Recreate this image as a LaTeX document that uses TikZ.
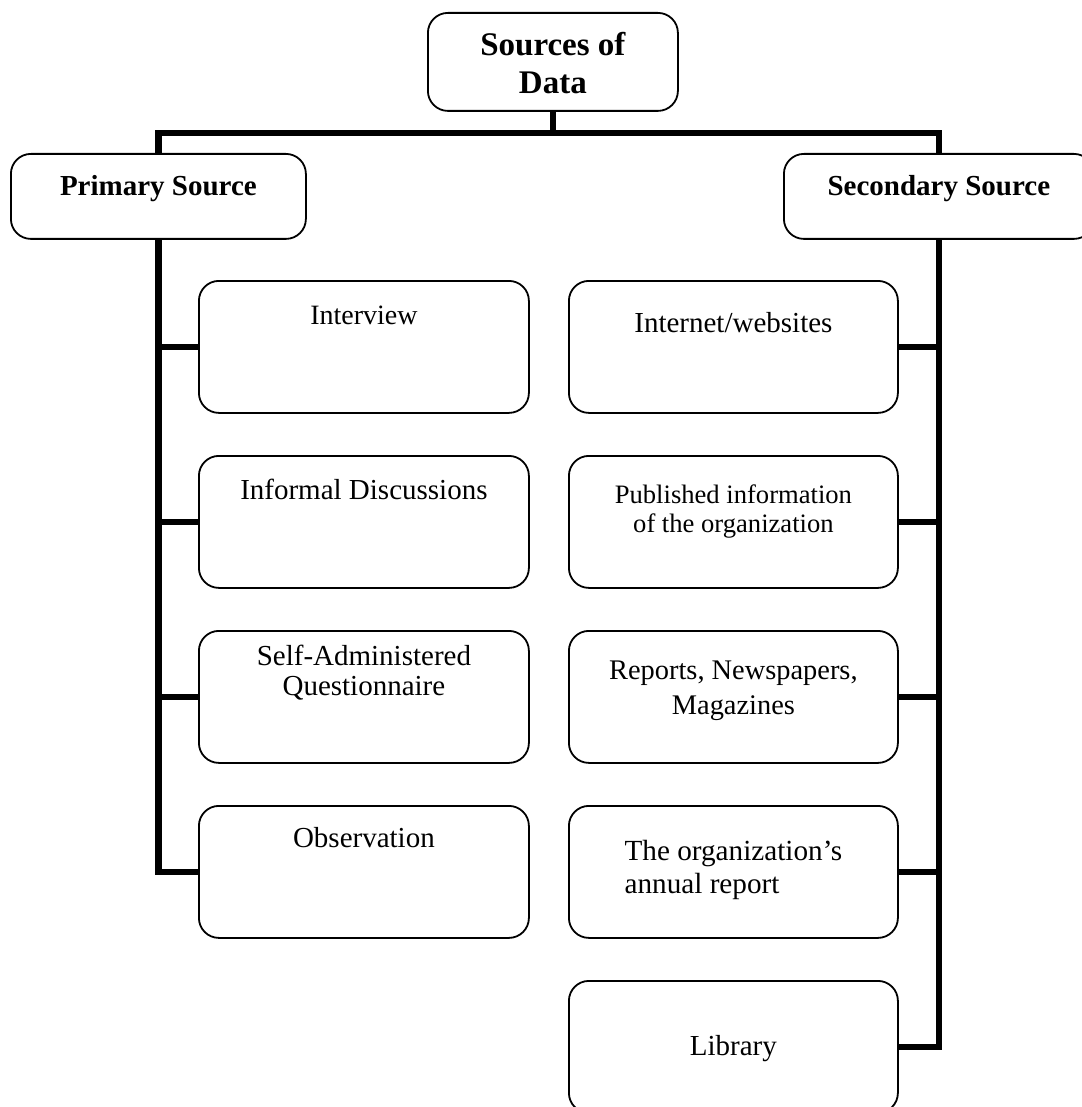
\documentclass[tikz,border=0pt]{standalone}
\usepackage{fontspec}
\setmainfont{Liberation Serif}
\usepackage{tikz}
\usetikzlibrary{positioning, calc}
\tikzset{
  srcbox/.style  = {rectangle, rounded corners=10pt, draw=black, line width=0.9pt,
                    fill=white, inner sep=0pt, anchor=north west, align=center},
  topbox/.style  = {srcbox, minimum width=125pt, minimum height=49pt,
                    font=\fontsize{16.5}{19}\selectfont\bfseries},
  headbox/.style = {srcbox, minimum height=42.5pt,
                    font=\fontsize{14.5}{17}\selectfont\bfseries},
  itembox/.style = {srcbox, minimum width=165pt, minimum height=66pt,
                    font=\fontsize{14.5}{15}\selectfont},
  link/.style    = {line width=3.3pt, line join=miter},
}
\begin{document}
\begin{tikzpicture}[x=0.5pt, y=-0.5pt]
  \useasboundingbox (0,0) rectangle (1081,1107);
  % top of the tree
  \node[topbox, text height=40.5pt, text depth=8.5pt] (root) at (427,12)
    {Sources of\\Data};
  \node[headbox, minimum width=147.5pt, text height=21pt, text depth=21.5pt] (prim) at (10,153)
    {Primary Source};
  \node[headbox, minimum width=155pt, text height=21pt, text depth=21.5pt] (sec) at (783,153)
    {Secondary Source};
  % primary branch
  \node[itembox, font=\fontsize{14}{15}\selectfont, text height=22pt, text depth=44pt] (intv) at (198,280)
    {Interview};
  \node[itembox, text height=22pt, text depth=44pt] (disc) at (198,455)
    {Informal Discussions};
  \node[itembox, text height=32.5pt, text depth=33.5pt] (quest) at (198,630)
    {Self-Administered\\Questionnaire};
  \node[itembox, text height=21pt, text depth=45pt] (obs) at (198,805)
    {Observation};
  % secondary branch
  \node[itembox, minimum width=164.5pt, text height=26pt, text depth=40pt] (web) at (568,280)
    {Internet/websites};
  \node[itembox, minimum width=164.5pt, font=\fontsize{13.3}{14.5}\selectfont,
        text height=38.5pt, text depth=27.5pt] (pub) at (568,455)
    {Published information\\of the organization};
  \node[itembox, minimum width=164.5pt, font=\fontsize{14.2}{17.5}\selectfont,
        text height=42pt, text depth=24pt] (rep) at (568,630)
    {Reports, Newspapers,\\Magazines};
  \node[itembox, minimum width=164.5pt, align=left, font=\fontsize{14.6}{16.5}\selectfont,
        text height=44pt, text depth=22pt] (annual) at (568,805)
    {The organization’s\\annual report};
  \node[itembox, minimum width=164.5pt, text height=37.5pt, text depth=28.5pt] (lib) at (568,980)
    {Library};
  % connectors
  \coordinate (bus) at (root.south |- 0,133);
  \draw[link] (root.south) -- (bus);
  \draw[link] (prim.north) |- (bus) -| (sec.north);
  \draw[link] (prim.south) |- (obs.west);
  \foreach \n in {intv, disc, quest}
    \draw[link] (\n.west) -- (\n.west -| prim.south);
  \draw[link] (sec.south) |- (lib.east);
  \foreach \n in {web, pub, rep, annual}
    \draw[link] (\n.east) -- (\n.east -| sec.south);
\end{tikzpicture}
\end{document}
